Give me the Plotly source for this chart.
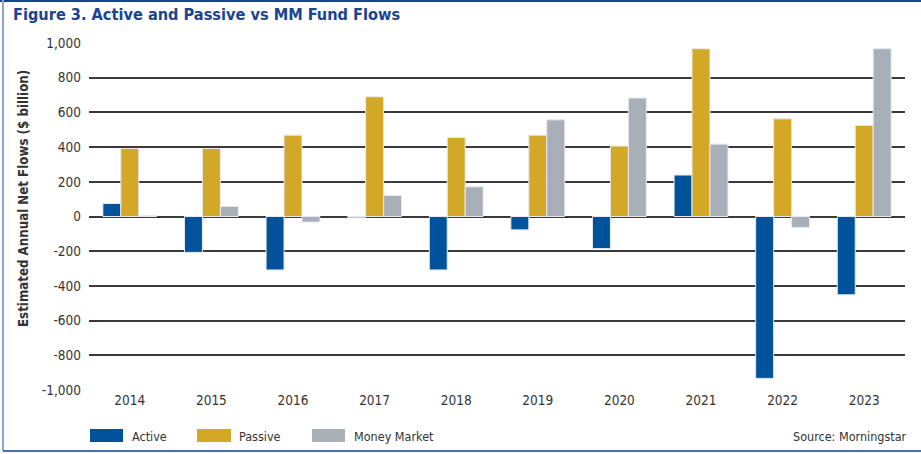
import plotly.graph_objects as go

years = ["2014", "2015", "2016", "2017", "2018", "2019", "2020", "2021", "2022", "2023"]
active = [75, -207, -308, -7, -308, -77, -185, 239, -933, -451]
passive = [392, 392, 469, 690, 456, 469, 406, 967, 563, 525]
money_market = [5, 58, -32, 121, 171, 557, 683, 417, -63, 967]

series_names = ["Active", "Passive", "Money Market"]
series_colors = ["#00529b", "#d4a827", "#a9afb6"]
ytick_vals = [1000, 800, 600, 400, 200, 0, -200, -400, -600, -800, -1000]
ytick_text = ["1,000", "800", "600", "400", "200", "0", "-200", "-400", "-600", "-800", "-1,000"]

W, H = 921, 454
L, R, T, B = 89, 16, 43, 64
PW, PH = W - L - R, H - T - B

def px(x):
    return (x - L) / PW

def py(y):
    return (H - B - y) / PH

FONT = "DejaVu Sans Condensed, Roboto, sans-serif"
TXT = "#333333"

fig = go.Figure()
for name, vals, col in zip(series_names, [active, passive, money_market], series_colors):
    fig.add_trace(go.Bar(
        x=years, y=vals, name=name,
        marker=dict(color=col, line=dict(color="#e6e9ee", width=1)),
        showlegend=False, hoverinfo="skip",
    ))

shapes = []
annotations = []
legend_pos = [(90, 123, 130), (197, 231, 237), (312, 345, 352)]
for (x0, x1, tx), name, col in zip(legend_pos, series_names, series_colors):
    shapes.append(dict(type="rect", xref="paper", yref="paper",
                       x0=px(x0), x1=px(x1), y0=py(442), y1=py(429),
                       fillcolor=col, line=dict(width=0)))
    annotations.append(dict(xref="paper", yref="paper", x=px(tx), y=py(436),
                            text=name, showarrow=False, xanchor="left", yanchor="middle",
                            font=dict(family=FONT, size=12.5, color=TXT)))
annotations.append(dict(xref="paper", yref="paper", x=px(909), y=py(436),
                        text="Source: Morningstar", showarrow=False, xanchor="right", yanchor="middle",
                        font=dict(family=FONT, size=12.5, color=TXT)))
annotations.append(dict(xref="paper", yref="paper", x=px(11), y=py(15),
                        text="<b>Figure 3. Active and Passive vs MM Fund Flows</b>", showarrow=False,
                        xanchor="left", yanchor="middle",
                        font=dict(family=FONT, size=16.2, color="#1a4490")))
annotations.append(dict(xref="paper", yref="paper", x=px(23), y=py(199),
                        text="Estimated Annual Net Flows ($ billion)", showarrow=False, textangle=-90,
                        xanchor="center", yanchor="middle",
                        font=dict(family=FONT, size=13.2, color=TXT, weight=600)))
shapes.append(dict(type="line", xref="paper", yref="paper", x0=px(0), x1=px(W), y0=py(1), y1=py(1),
                   line=dict(color="#1a4490", width=2)))
shapes.append(dict(type="line", xref="paper", yref="paper", x0=px(3), x1=px(3), y0=py(0), y1=py(451),
                   line=dict(color="#8fa6cc", width=2)))
shapes.append(dict(type="line", xref="paper", yref="paper", x0=px(3), x1=px(W), y0=py(451), y1=py(451),
                   line=dict(color="#4a6fae", width=2)))

fig.update_layout(
    width=W, height=H,
    margin=dict(l=L, r=R, t=T, b=B, pad=0),
    paper_bgcolor="white", plot_bgcolor="white",
    barmode="group", bargap=0.34, bargroupgap=0,
    font=dict(family=FONT, size=13.5, color=TXT),
    shapes=shapes, annotations=annotations,
    hovermode=False,
    xaxis=dict(showgrid=False, showline=False, ticks="", tickfont=dict(size=13.5, color=TXT)),
    yaxis=dict(range=[-1000, 1000], tickvals=ytick_vals, ticktext=ytick_text,
               showgrid=True, gridcolor="#3a3a3a", gridwidth=1.5,
               zeroline=True, zerolinecolor="#3a3a3a", zerolinewidth=1.5,
               showline=False, ticks="", ticklabelstandoff=7,
               tickfont=dict(size=13.5, color=TXT)),
)

fig.write_html("out.html", config={"displayModeBar": False},
               post_script="document.body.style.margin='0';")
